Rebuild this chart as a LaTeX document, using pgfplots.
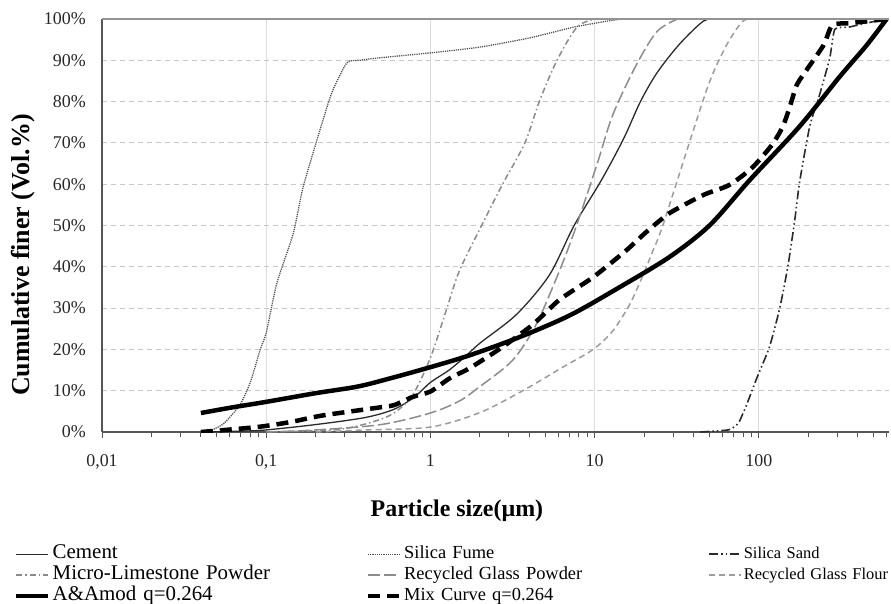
\documentclass[border=0pt]{standalone}
\usepackage{pgfplots}
\pgfplotsset{compat=1.18}
\usepackage{fontspec}
\setmainfont{Liberation Serif}
\definecolor{axisgray}{HTML}{555555}
\definecolor{gridx}{HTML}{DCDCDC}
\definecolor{gridy}{HTML}{C8C8C8}
\definecolor{cem}{HTML}{2A2A2A}
\definecolor{sf}{HTML}{505050}
\definecolor{ss}{HTML}{2A2A2A}
\definecolor{ml}{HTML}{8A8A8A}
\definecolor{gp}{HTML}{8C8C8C}
\definecolor{gf}{HTML}{9C9C9C}
\begin{document}
\begin{tikzpicture}
\begin{axis}[
  scale only axis, width=787bp, height=413bp,
  at={(0,0)}, anchor=south west,
  xmode=log, xmin=0.01, xmax=620, ymin=0, ymax=100,
  axis x line*=bottom, axis y line*=left,
  every outer x axis line/.append style={axisgray, line width=1.4bp},
  every outer y axis line/.append style={axisgray, line width=1.4bp},
  xtick={0.01,0.1,1,10,100},
  xticklabels={{0,01},{0,1},1,10,100},
  minor xtick={0.02,0.03,0.04,0.05,0.06,0.07,0.08,0.09,0.2,0.3,0.4,0.5,0.6,0.7,0.8,0.9,2,3,4,5,6,7,8,9,20,30,40,50,60,70,80,90,200,300,400,500,600},
  xtick align=outside,
  major tick length=6bp, minor tick length=5bp,
  xtick style={axisgray, line width=0.9bp},
  minor x tick style={axisgray, line width=0.9bp},
  ytick={0,10,...,100},
  yticklabels={0\%,10\%,20\%,30\%,40\%,50\%,60\%,70\%,80\%,90\%,100\%},
  ytick style={draw=none},
  xmajorgrids, ymajorgrids,
  x grid style={gridx, line width=0.8bp},
  y grid style={gridy, line width=0.8bp, dash pattern=on 5bp off 4bp},
  tick label style={font=\fontsize{18}{20}\selectfont, text=black!85},
  yticklabel style={anchor=east, inner sep=0pt, xshift=-16bp},
  xticklabel style={anchor=north, inner sep=0pt, yshift=-16bp},
  xlabel={\textbf{Particle size(µm)}},
  ylabel={\textbf{Cumulative finer (Vol.\%)}},
  xlabel style={font=\fontsize{24}{26}\selectfont, at={(axis description cs:0.451,-0.191)}, anchor=center, inner sep=0pt},
  ylabel style={font=\fontsize{26}{28}\selectfont, at={(axis description cs:-0.1004,0.4286)}, anchor=center, inner sep=0pt},
  legend columns=3,
  legend style={at={(axis description cs:-0.1118,-0.2712)}, anchor=north west,
    draw=none, fill=none, inner sep=0pt, column sep=0bp, row sep=1bp,
    font=\fontsize{19}{21}\selectfont,
    nodes={inner sep=0pt, text width=313bp, align=left, text height=14bp, text depth=6bp},
    /tikz/column 2/.style={nodes={font=\fontsize{21}{21}\selectfont}},
    /tikz/column 4/.style={nodes={text width=304bp, font=\fontsize{18.5}{21}\selectfont}},
    /tikz/column 6/.style={nodes={font=\fontsize{16.5}{21}\selectfont}}},
  legend cell align=left,
  legend image code/.code={\draw[#1] (0bp,0bp) -- (32bp,0bp); \path (34bp,0bp);},
  every axis plot/.append style={smooth, tension=0.5},
]
% Cement
\addplot[cem, line width=1.3bp] coordinates {
(0.04,0) (0.07,0.2) (0.1,0.5) (0.2,1.8) (0.4,3.5) (0.6,5.5) (0.8,8.5) (1.0,12) (1.3,15) (1.6,18) (2.0,21.5) (3.35,28.5) (5.3,38) (7.5,50) (11,61) (15,71) (19,80) (24,87) (33,94) (46,99.5) (55,100)};
\addlegendentry{Cement}
% Silica Fume
\addplot[sf, line width=1.3bp, dash pattern=on 1.2bp off 1bp, tension=0.35] coordinates {
(0.044,0) (0.055,2) (0.069,6.5) (0.08,12) (0.092,20) (0.1,24) (0.116,36) (0.146,48) (0.167,59) (0.203,70.5) (0.25,82) (0.31,89.4) (0.37,90) (0.49,90.6) (1,91.8) (2,93.2) (4,95.4) (7.4,98) (12,99.5) (15,100) (20,100)};
\addlegendentry{Silica Fume}
% Silica Sand
\addplot[ss, line width=1.6bp, dash pattern=on 9bp off 3bp on 1.5bp off 3bp on 1.5bp off 3bp, tension=0.35] coordinates {
(44,0) (65,0.5) (72,1.5) (76,2.5) (85,7) (97,13) (116,20.6) (134,30) (150,40) (165,51) (177,60.5) (204,74) (234,81.6) (270,90.5) (290,97.5) (350,98) (450,99) (600,100)};
\addlegendentry{Silica Sand}
% Micro-Limestone Powder
\addplot[ml, line width=1.5bp, dash pattern=on 6bp off 3bp on 1.5bp off 3bp] coordinates {
(0.1,0) (0.2,0.3) (0.3,0.8) (0.45,2.5) (0.6,4.6) (0.78,9) (1.0,18) (1.26,30) (1.5,39) (2.05,50) (2.75,60) (3.76,70) (4.6,80) (5.9,90) (7.8,98) (10,100)};
\addlegendentry{Micro-Limestone Powder}
% Recycled Glass Powder
\addplot[gp, line width=1.5bp, dash pattern=on 12bp off 4bp] coordinates {
(0.1,0) (0.2,0.5) (0.5,1.8) (1.0,4.6) (1.5,7.5) (2.0,11) (3.17,17.4) (4.4,26) (6.1,39) (7.6,49) (10.3,64.6) (12.9,76.8) (18,89) (24,97) (32,100)};
\addlegendentry{Recycled Glass Powder}
% Recycled Glass Flour
\addplot[gf, line width=1.5bp, dash pattern=on 6bp off 4bp] coordinates {
(0.2,0) (0.4,0.5) (1.0,1.2) (2.0,4.7) (3.65,10) (6.4,15.7) (9.8,20) (12.9,24.5) (16.4,31) (19.7,38) (22.7,44) (26,50) (37.7,70) (50,84.7) (63.6,93.7) (79,99.3) (90,100)};
\addlegendentry{Recycled Glass Flour}
% A&Amod
\addplot[black, line width=4.5bp] coordinates {
(0.04,4.6) (0.063,6) (0.1,7.3) (0.2,9.4) (0.36,11) (0.57,13) (1.0,15.7) (1.74,18.6) (3.5,23) (7.1,28.3) (14.1,35) (28.6,42.4) (50,50) (88,61) (177,74) (310,86) (450,93.5) (600,100)};
\addlegendentry{A\&Amod q=0.264}
% Mix Curve
\addplot[black, line width=4.5bp, dash pattern=on 12bp off 7bp, tension=0.4] coordinates {
(0.04,0) (0.088,1.2) (0.14,2.4) (0.22,4) (0.5,6) (0.6,6.5) (0.78,8.5) (1.0,9.8) (1.31,13) (1.74,15.5) (2.75,20.6) (4.2,26) (6.1,32) (9.8,37.5) (15.6,44) (20.6,48.4) (28.6,53) (46,57.4) (66,59.8) (91,64) (120,69.5) (140,74) (155,79) (170,84) (194,87.5) (248,93.7) (280,98.5) (360,99) (600,100)};
\addlegendentry{Mix Curve q=0.264}
\draw[gray!85, line width=1.6bp] (rel axis cs:0,1) -- (rel axis cs:1,1);
\end{axis}
\pgfresetboundingbox
\path[use as bounding box] (-102bp,-172bp) rectangle (789bp,432bp);
\end{tikzpicture}
\end{document}
